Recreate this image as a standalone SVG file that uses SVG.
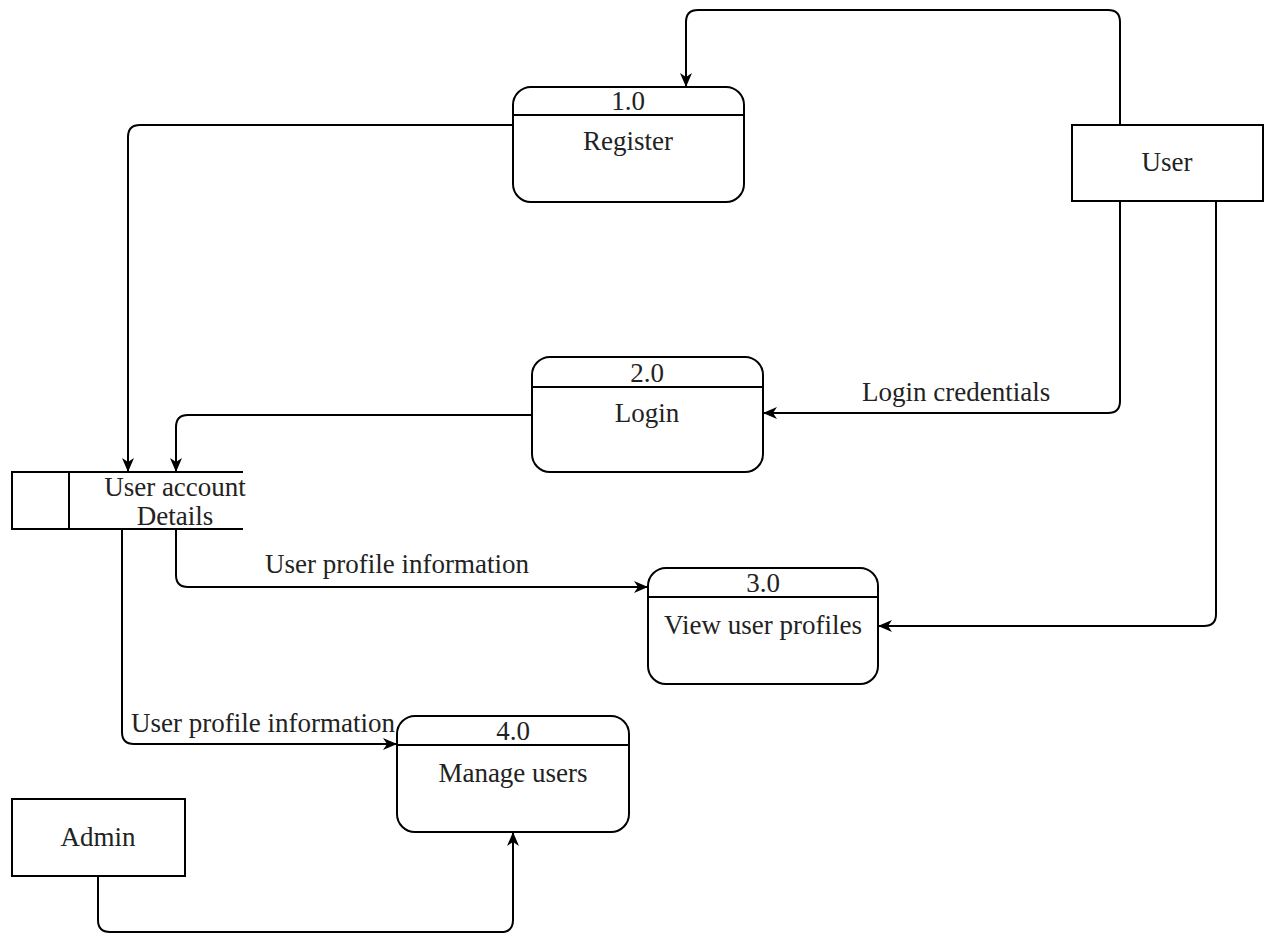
<svg xmlns="http://www.w3.org/2000/svg" width="1264" height="934" viewBox="0 0 1264 934">
<defs>
<style>
.box{fill:#fff;stroke:#000;stroke-width:2}
.ln{fill:none;stroke:#000;stroke-width:2}
.t{font-size:27px;fill:#222;text-anchor:middle}
.tl{font-size:27px;fill:#222}
</style>
<marker id="ar" viewBox="0 0 14 14" refX="13" refY="7" markerWidth="14" markerHeight="14" markerUnits="userSpaceOnUse" orient="auto">
<path d="M0,1 L14,7 L0,13 L4,7 Z" fill="#000"/>
</marker>
</defs>
<g font-family="Liberation Serif, Times New Roman, Times, serif">
<g id="connectors">
<path class="ln" marker-end="url(#ar)" d="M1120,125 V22 Q1120,10 1108,10 H698 Q686,10 686,22 V86"/>
<path class="ln" marker-end="url(#ar)" d="M513,125 H140 Q128,125 128,137 V471"/>
<path class="ln" marker-end="url(#ar)" d="M1120,201 V401 Q1120,413 1108,413 H764"/>
<path class="ln" marker-end="url(#ar)" d="M532,415 H188 Q176,415 176,427 V471"/>
<path class="ln" marker-end="url(#ar)" d="M176,529 V575 Q176,587 188,587 H647"/>
<path class="ln" marker-end="url(#ar)" d="M1216,201 V614 Q1216,626 1204,626 H879"/>
<path class="ln" marker-end="url(#ar)" d="M122,529 V732 Q122,744 134,744 H396"/>
<path class="ln" marker-end="url(#ar)" d="M98,876 V920 Q98,932 110,932 H501 Q513,932 513,920 V833"/>
<text class="tl" x="862" y="401">Login credentials</text>
<text class="tl" x="265" y="573">User profile information</text>
<text class="tl" x="131" y="732">User profile information</text>
</g>
<g id="p1">
<rect class="box" x="513" y="87" width="231" height="115" rx="18"/>
<line class="ln" x1="513" y1="115" x2="744" y2="115"/>
<text class="t" x="628" y="110">1.0</text>
<text class="t" x="628" y="150">Register</text>
</g>
<g id="p2">
<rect class="box" x="532" y="357" width="231" height="115" rx="18"/>
<line class="ln" x1="532" y1="387" x2="763" y2="387"/>
<text class="t" x="647" y="382">2.0</text>
<text class="t" x="647" y="422">Login</text>
</g>
<g id="p3">
<rect class="box" x="648" y="568" width="230" height="116" rx="18"/>
<line class="ln" x1="648" y1="597" x2="878" y2="597"/>
<text class="t" x="763" y="592">3.0</text>
<text class="t" x="763" y="634">View user profiles</text>
</g>
<g id="p4">
<rect class="box" x="397" y="716" width="232" height="116" rx="18"/>
<line class="ln" x1="397" y1="745" x2="629" y2="745"/>
<text class="t" x="513" y="740">4.0</text>
<text class="t" x="513" y="782">Manage users</text>
</g>
<g id="user">
<rect class="box" x="1072" y="125" width="191" height="76"/>
<text class="t" x="1167" y="171">User</text>
</g>
<g id="admin">
<rect class="box" x="12" y="799" width="173" height="77"/>
<text class="t" x="98" y="846">Admin</text>
</g>
<g id="store">
<path class="ln" d="M243,472 H12 V529 H243 M69,472 V529"/>
<text class="t" x="175" y="496">User account</text>
<text class="t" x="175" y="525">Details</text>
</g>
</g>
</svg>
